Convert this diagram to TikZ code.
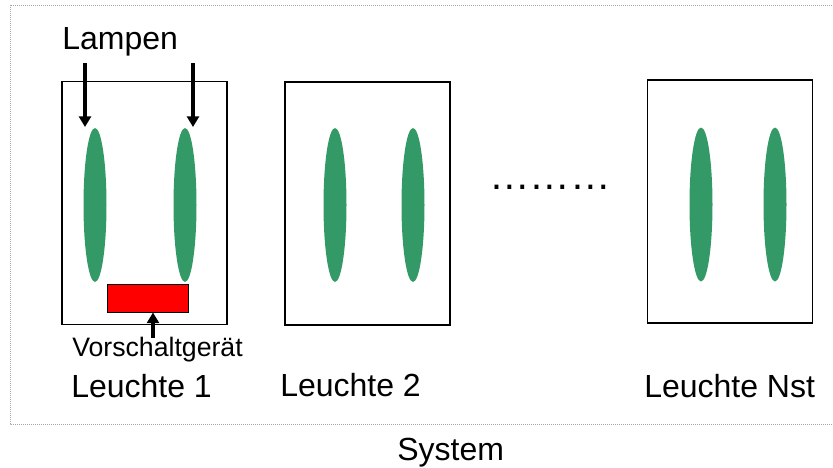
\documentclass[tikz,border=0pt]{standalone}
\usepackage{fontspec}
\setmainfont{Liberation Sans}
\usetikzlibrary{arrows.meta, shapes.geometric}
\definecolor{lampgreen}{RGB}{51,153,102}

\begin{document}
\begin{tikzpicture}[x=0.75pt, y=-0.75pt,
    leuchte/.style={draw=black, line width=1pt, minimum width=123.75pt,
        minimum height=182.25pt, inner sep=0pt},
    lampe/.style={ellipse, fill=lampgreen, draw=none, minimum width=17.25pt,
        minimum height=115.5pt, inner sep=0pt},
    pfeil/.style={line width=3pt, -{Triangle[width=9pt, length=8pt]}},
    beschriftung/.style={anchor=base west, inner sep=0pt, font=\fontsize{24}{26}\selectfont}]
    \useasboundingbox (0,0) rectangle (833,468);
    % Add the system frame
    \begin{scope}
        \clip (0,0) rectangle (833,468);
        \draw[gray!70, line width=0.75pt, dash pattern=on 0.75pt off 0.75pt]
            (10,5) rectangle (845,424);
    \end{scope}
    % Add the luminaires
        \node[leuchte] (leuchte1) at (144.5,203) {};
        \node[leuchte] (leuchte2) at (367.5,203.5) {};
        \node[leuchte] (leuchteN) at (730,201.5) {};
    % Add the lamps
        \node[lampe] (l1a) at (95,205) {};
        \node[lampe] (l1b) at (185,205) {};
        \node[lampe] (l2a) at (335,205) {};
        \node[lampe] (l2b) at (413,205) {};
        \node[lampe] (lNa) at (701,204.5) {};
        \node[lampe] (lNb) at (775,204.5) {};
    % Add the ballast
        \node[draw=black, line width=0.75pt, fill=red, minimum width=60.75pt,
              minimum height=21pt, inner sep=0pt] (vg) at (147.5,298) {};
    % Add the texts
        \node[beschriftung] (lampen) at (62,49) {Lampen};
        \node[beschriftung, font=\fontsize{20}{22}\selectfont] (vgtext) at (72,356) {Vorschaltgerät};
        \node[beschriftung] (name1) at (71,397) {Leuchte 1};
        \node[beschriftung] (name2) at (280,396) {Leuchte 2};
        \node[beschriftung] (nameN) at (644,397) {Leuchte Nst};
        \node[beschriftung] (system) at (397,460) {System};
        \node[anchor=base west, inner sep=0pt, font=\fontsize{30.5}{33}\selectfont] (punkte) at (489,189) {………};
    % Add the arrows
        \coordinate (pa1) at (85,63);
        \coordinate (pe1) at (85,127);
        \coordinate (pa2) at (193,63);
        \coordinate (pe2) at (193,127);
        \coordinate (vgfuss) at (153,338);
        \draw[pfeil] (pa1) -- (pe1);
        \draw[pfeil] (pa2) -- (pe2);
        \draw[pfeil] (vgfuss) -- (vg.south -| vgfuss);
\end{tikzpicture}
\end{document}
